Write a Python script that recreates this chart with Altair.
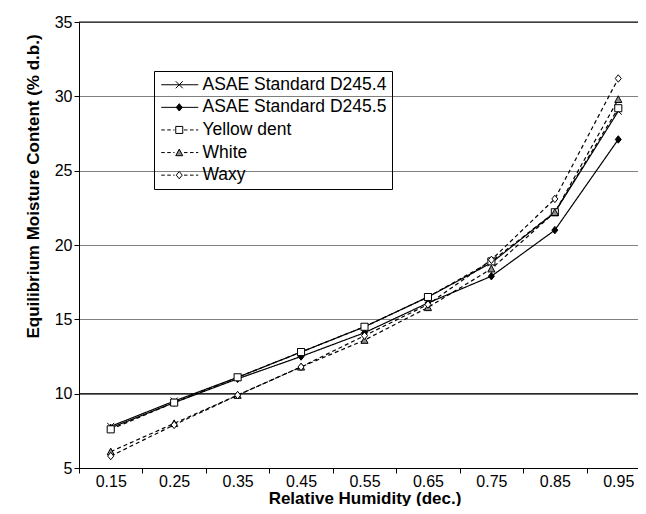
import altair as alt
import pandas as pd

# ---- data ----
rh = ["0.15", "0.25", "0.35", "0.45", "0.55", "0.65", "0.75", "0.85", "0.95"]
series = ["ASAE Standard D245.4", "ASAE Standard D245.5", "Yellow dent", "White", "Waxy"]
std_d245_4 = [7.8, 9.5, 11.1, 12.8, 14.5, 16.5, 18.8, 22.2, 29.0]
std_d245_5 = [7.7, 9.4, 11.0, 12.5, 14.1, 16.1, 17.9, 21.0, 27.1]
yellow_dent = [7.6, 9.4, 11.1, 12.8, 14.5, 16.5, 18.9, 22.2, 29.2]
white = [6.1, 8.0, 9.9, 11.8, 13.6, 15.8, 18.4, 22.2, 29.8]
waxy = [5.8, 7.9, 9.9, 11.8, 13.9, 16.0, 19.0, 23.1, 31.2]
y_ticks = [5, 10, 15, 20, 25, 30, 35]
dark_lines = [10, 35]

values = [std_d245_4, std_d245_5, yellow_dent, white, waxy]
rows = []
for s, vals in zip(series, values):
    for r, v in zip(rh, vals):
        rows.append({"series": s, "rh": r, "emc": v})
df = pd.DataFrame(rows)
frame_df = pd.DataFrame({"y": dark_lines})

FONT = "Liberation Sans"

# ---- styles ----
dashed = [False, False, True, True, True]
dash_range = [[4, 3] if d else [1, 0] for d in dashed]
width_range = [1 if d else 1.2 for d in dashed]
fills = ["black", "black", "white", "#8c8c8c", "white"]
strokes = ["black"] * 5


def m_x(cx, h):
    return f"M{cx-h},{-h}L{cx+h},{h}M{cx-h},{h}L{cx+h},{-h}"


def m_diamond(cx, h):
    return f"M{cx},{-h*1.05}L{cx+h*0.85},0L{cx},{h*1.05}L{cx-h*0.85},0Z"


def m_square(cx, h):
    return f"M{cx-h},{-h}H{cx+h}V{h}H{cx-h}Z"


def m_tri(cx, h):
    return f"M{cx},{-h}L{cx+h},{h*0.9}H{cx-h}Z"


markers = [m_x, m_diamond, m_square, m_tri, m_diamond]
point_shapes = [f(0, 1) for f in markers]


def legend_path(fn, is_dashed):
    cx, h = 2.3, 0.7
    x0, x1 = -1.3, 6.1
    if not is_dashed:
        line = f"M{x0},0H{x1}"
    else:
        segs = []
        for a, b in [(x0, cx - h - 0.25), (cx + h + 0.25, x1)]:
            x = a
            while x < b:
                e = min(x + 0.7, b)
                segs.append(f"M{x:.2f},0H{e:.2f}")
                x = e + 0.5
        line = "".join(segs)
    return line + fn(cx, h)


legend_shapes = [legend_path(f, d) for f, d in zip(markers, dashed)]


def make_legend():
    return alt.Legend(
        title=None,
        orient="none",
        legendX=75,
        legendY=49,
        direction="vertical",
        strokeColor="black",
        padding=5,
        rowPadding=3.6,
        labelFontSize=17.5,
        labelFont=FONT,
        labelColor="black",
        labelLimit=400,
        labelOffset=26,
        symbolSize=100,
        symbolStrokeWidth=1,
        symbolStrokeColor="black",
        symbolOpacity=1,
    )


x_enc = alt.X(
    "rh:O",
    scale=alt.Scale(type="band", domain=rh, paddingInner=0, paddingOuter=0),
    axis=alt.Axis(
        title="Relative Humidity (dec.)",
        labelAngle=0,
        tickBand="extent",
        tickSize=5,
        labelPadding=0,
        titleY=35,
        titleBaseline="alphabetic",
        grid=False,
    ),
)
y_enc = alt.Y(
    "emc:Q",
    scale=alt.Scale(domain=[5, 35], nice=False),
    axis=alt.Axis(
        title="Equilibrium Moisture Content (% d.b.)",
        values=y_ticks,
        tickSize=5,
        labelPadding=2,
        grid=True,
        gridColor="#808080",
        titleX=-37,
        titleY=164,
    ),
)

frame = alt.Chart(frame_df).mark_rule(color="black", strokeWidth=1).encode(
    y=alt.Y("y:Q", scale=alt.Scale(domain=[5, 35], nice=False))
)

lines = alt.Chart(df).mark_line(color="black").encode(
    x=x_enc,
    y=y_enc,
    detail="series:N",
    strokeDash=alt.StrokeDash(
        "series:N", scale=alt.Scale(domain=series, range=dash_range), legend=None
    ),
    strokeWidth=alt.StrokeWidth(
        "series:N", scale=alt.Scale(domain=series, range=width_range), legend=None
    ),
)

points = alt.Chart(df).mark_point(size=50, color="black", strokeWidth=1, opacity=1).encode(
    x=x_enc,
    y=y_enc,
    shape=alt.Shape("series:N", scale=alt.Scale(domain=series, range=point_shapes), legend=None),
    fill=alt.Fill("series:N", scale=alt.Scale(domain=series, range=fills), legend=None),
)

legend_layer = alt.Chart(df).mark_point(size=50, strokeWidth=1, opacity=0).encode(
    x=x_enc,
    y=y_enc,
    shape=alt.Shape(
        "series:N", scale=alt.Scale(domain=series, range=legend_shapes), legend=make_legend()
    ),
    fill=alt.Fill("series:N", scale=alt.Scale(domain=series, range=fills), legend=make_legend()),
    stroke=alt.Stroke(
        "series:N", scale=alt.Scale(domain=series, range=strokes), legend=make_legend()
    ),
)

chart = (
    alt.layer(frame, lines, points, legend_layer)
    .resolve_scale(shape="independent", fill="independent", stroke="independent")
    .properties(
        width=571,
        height=446,
        autosize=alt.AutoSizeParams(type="none"),
        padding={"left": 71, "top": 14, "right": -12, "bottom": 38},
        background="white",
    )
    .configure_view(stroke=None)
    .configure_axis(
        labelFont=FONT,
        titleFont=FONT,
        labelFontSize=16,
        titleFontSize=17,
        titleFontWeight="bold",
        labelColor="black",
        titleColor="black",
        domainColor="black",
        tickColor="black",
        domainWidth=1,
        tickWidth=1,
    )
)

chart.save("out.html", embed_options={"renderer": "svg", "actions": False})
